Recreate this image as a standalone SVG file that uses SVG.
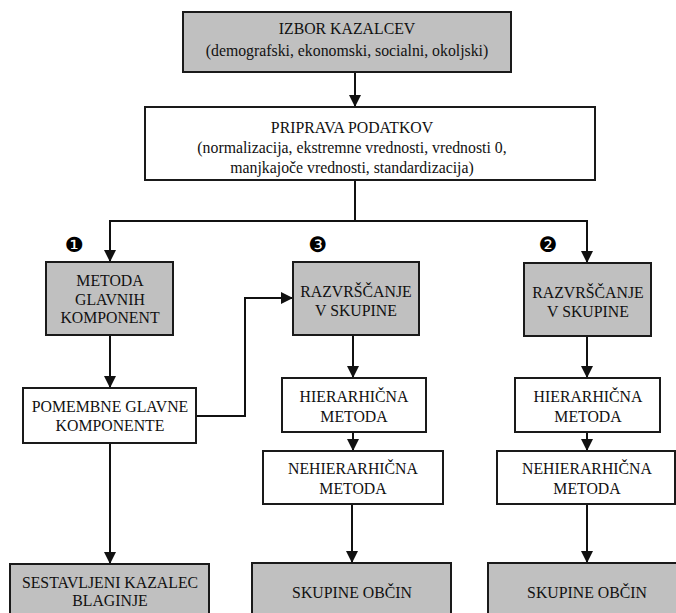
<svg xmlns="http://www.w3.org/2000/svg" width="676" height="613" viewBox="0 0 676 613">
  <style>
    .box { stroke: #1a1a1a; stroke-width: 2; }
    .grey { fill: #c0c0c0; }
    .white { fill: #ffffff; }
    .lbl { font-family: 'Liberation Serif', 'Times New Roman', 'DejaVu Serif', serif; font-size: 15.8px; fill: #111; text-anchor: middle; }
    .num { font-family: 'DejaVu Sans', sans-serif; font-size: 21px; fill: #000; text-anchor: middle; }
    .wire { fill: none; stroke: #111; stroke-width: 2; }
  </style>
  <defs>
    <marker id="arr" viewBox="0 0 12 12" refX="12" refY="6" markerWidth="12" markerHeight="12" markerUnits="userSpaceOnUse" orient="auto">
      <path d="M0,0 L12,6 L0,12 z" fill="#111"/>
    </marker>
  </defs>
  <rect width="676" height="613" fill="#ffffff"/>

  <g id="connectors">
    <path class="wire" d="M355,72 V107" marker-end="url(#arr)"/>
    <path class="wire" d="M355,180 V221 H110 V262" marker-end="url(#arr)"/>
    <path class="wire" d="M355,221 H587 V263" marker-end="url(#arr)"/>
    <path class="wire" d="M110,335 V388" marker-end="url(#arr)"/>
    <path class="wire" d="M196,416 H245 V298 H293" marker-end="url(#arr)"/>
    <path class="wire" d="M110,443 V564" marker-end="url(#arr)"/>
    <path class="wire" d="M353,335 V378" marker-end="url(#arr)"/>
    <path class="wire" d="M353,432 V451" marker-end="url(#arr)"/>
    <path class="wire" d="M352,504 V563" marker-end="url(#arr)"/>
    <path class="wire" d="M587,336 V378" marker-end="url(#arr)"/>
    <path class="wire" d="M587,432 V451" marker-end="url(#arr)"/>
    <path class="wire" d="M587,504 V563" marker-end="url(#arr)"/>
  </g>

  <g id="izbor">
    <rect class="box grey" x="183" y="12" width="328" height="60"/>
    <text class="lbl" x="347" y="34">IZBOR KAZALCEV</text>
    <text class="lbl" x="347" y="56">(demografski, ekonomski, socialni, okoljski)</text>
  </g>

  <g id="priprava">
    <rect class="box white" x="145" y="107" width="450" height="73"/>
    <text class="lbl" x="352" y="133">PRIPRAVA PODATKOV</text>
    <text class="lbl" x="352" y="153">(normalizacija, ekstremne vrednosti, vrednosti 0,</text>
    <text class="lbl" x="352" y="173">manjkajoče vrednosti, standardizacija)</text>
  </g>

  <g id="metoda-glavnih">
    <text class="num" x="74" y="252">❶</text>
    <rect class="box grey" x="46" y="262" width="127" height="73"/>
    <text class="lbl" x="110" y="286">METODA</text>
    <text class="lbl" x="110" y="305">GLAVNIH</text>
    <text class="lbl" x="110" y="323">KOMPONENT</text>
  </g>

  <g id="pomembne">
    <rect class="box white" x="23" y="388" width="173" height="55"/>
    <text class="lbl" x="110" y="412">POMEMBNE GLAVNE</text>
    <text class="lbl" x="110" y="431">KOMPONENTE</text>
  </g>

  <g id="kazalec">
    <rect class="box grey" x="10" y="564" width="199" height="60"/>
    <text class="lbl" x="110" y="588">SESTAVLJENI KAZALEC</text>
    <text class="lbl" x="110" y="606">BLAGINJE</text>
  </g>

  <g id="razvrscanje-3">
    <text class="num" x="318" y="252">❸</text>
    <rect class="box grey" x="293" y="262" width="126" height="73"/>
    <text class="lbl" x="356" y="297">RAZVRŠČANJE</text>
    <text class="lbl" x="356" y="316">V SKUPINE</text>
  </g>

  <g id="hierarhicna-3">
    <rect class="box white" x="282" y="378" width="144" height="54"/>
    <text class="lbl" x="354" y="402">HIERARHIČNA</text>
    <text class="lbl" x="354" y="422">METODA</text>
  </g>

  <g id="nehierarhicna-3">
    <rect class="box white" x="263" y="451" width="180" height="53"/>
    <text class="lbl" x="353" y="474">NEHIERARHIČNA</text>
    <text class="lbl" x="353" y="494">METODA</text>
  </g>

  <g id="skupine-3">
    <rect class="box grey" x="252" y="563" width="199" height="60"/>
    <text class="lbl" x="352" y="598">SKUPINE OBČIN</text>
  </g>

  <g id="razvrscanje-2">
    <text class="num" x="548" y="252">❷</text>
    <rect class="box grey" x="524" y="263" width="127" height="73"/>
    <text class="lbl" x="588" y="298">RAZVRŠČANJE</text>
    <text class="lbl" x="588" y="317">V SKUPINE</text>
  </g>

  <g id="hierarhicna-2">
    <rect class="box white" x="515" y="378" width="145" height="54"/>
    <text class="lbl" x="588" y="402">HIERARHIČNA</text>
    <text class="lbl" x="588" y="422">METODA</text>
  </g>

  <g id="nehierarhicna-2">
    <rect class="box white" x="497" y="451" width="178" height="53"/>
    <text class="lbl" x="587" y="474">NEHIERARHIČNA</text>
    <text class="lbl" x="587" y="494">METODA</text>
  </g>

  <g id="skupine-2">
    <rect class="box grey" x="488" y="563" width="200" height="60"/>
    <text class="lbl" x="587" y="598">SKUPINE OBČIN</text>
  </g>
</svg>
